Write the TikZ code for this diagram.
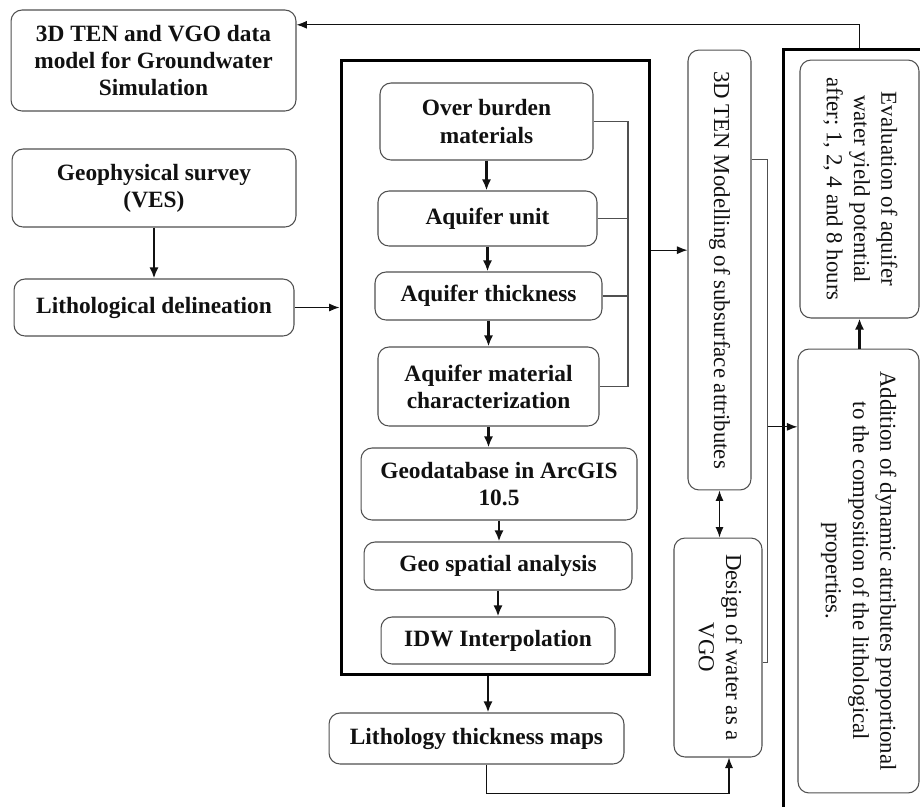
\documentclass[tikz,border=0pt]{standalone}
\usepackage{fontspec}
\setmainfont{Liberation Serif}
\usepackage{tikz}
\usetikzlibrary{arrows.meta, positioning, calc}
\definecolor{Edge}{HTML}{505050}
\definecolor{Ink}{HTML}{111111}
\newcommand{\vtext}[1]{\rotatebox{-90}{\begin{tabular}{@{}c@{}}#1\end{tabular}}}

\begin{document}
\begin{tikzpicture}[
        x=0.02cm,
        y=-0.02cm,
        font=\fontsize{13}{15.5}\selectfont,
        box/.style={draw=Edge, fill=white, rounded corners=2.2mm, line width=0.6pt, align=center, text=Ink, inner sep=2pt},
        boldbox/.style={box, font=\fontsize{13.3}{15.5}\selectfont\bfseries},
        bigframe/.style={draw=black, line width=1.7pt, inner sep=0pt},
        flow/.style={-{Latex[length=2.2mm,width=1.8mm]}, line width=1.2pt, draw=Ink},
        link/.style={-{Latex[length=2.1mm,width=1.6mm]}, line width=0.6pt, draw=Ink},
        duplex/.style={{Latex[length=2.1mm,width=1.6mm]}-{Latex[length=2.1mm,width=1.6mm]}, line width=0.6pt, draw=Ink},
        wire/.style={line width=0.6pt, draw=Edge}
      ]
        \useasboundingbox (0,0) rectangle (920,806);

        \node[boldbox, minimum width=5.70cm, minimum height=2.02cm] (model) at (153.5,60.5) {3D TEN and VGO data\\model for Groundwater\\Simulation};
        \node[boldbox, minimum width=5.68cm, minimum height=1.56cm] (survey) at (154,188) {Geophysical survey\\(VES)};
        \node[boldbox, minimum width=5.60cm, minimum height=1.14cm] (litho) at (154,307.5) {Lithological delineation};

        \node[bigframe, minimum width=6.18cm, minimum height=12.3cm] (frame) at (495.5,367.5) {};
        \node[boldbox, minimum width=4.26cm, minimum height=1.54cm] (over) at (486.5,121.5) {Over burden\\materials};
        \node[boldbox, minimum width=4.38cm, minimum height=1.10cm] (unit) at (487.5,218.5) {Aquifer unit};
        \node[boldbox, minimum width=4.54cm, minimum height=0.96cm] (thick) at (488.5,296) {Aquifer thickness};
        \node[boldbox, minimum width=4.42cm, minimum height=1.58cm] (matl) at (488.5,386.5) {Aquifer material\\characterization};
        \node[boldbox, minimum width=5.52cm, minimum height=1.44cm] (gdb) at (499,484) {Geodatabase in ArcGIS\\10.5};
        \node[boldbox, minimum width=5.36cm, minimum height=0.96cm] (gsa) at (498,566) {Geo spatial analysis};
        \node[boldbox, minimum width=4.68cm, minimum height=0.94cm] (idw) at (498,640.5) {IDW Interpolation};
        \node[boldbox, minimum width=5.90cm, minimum height=1.02cm] (maps) at (476.5,738.5) {Lithology thickness maps};

        \node[box, minimum width=1.26cm, minimum height=8.80cm] (ten) at (719.5,270) {\vtext{3D TEN Modelling of subsurface attributes}};
        \node[box, minimum width=1.76cm, minimum height=4.38cm] (vgo) at (718,647.5) {\vtext{Design of water as a\\VGO}};

        \node[bigframe, anchor=north west, minimum width=3.2cm, minimum height=15.6cm] (rframe) at (782,48) {};
        \node[box, minimum width=2.38cm, minimum height=5.16cm] (eval) at (859.5,189) {\vtext{Evaluation of aquifer\\water yield potential\\after; 1, 2, 4 and 8 hours}};
        \node[box, minimum width=2.42cm, minimum height=8.88cm] (addn) at (858.5,571) {\vtext{Addition of dynamic attributes proportional\\to the composition of the lithological\\properties.}};

        \coordinate (brk) at (628,0);
        \coordinate (tenin) at ($(ten.north west)!0.455!(ten.south west)$);
        \coordinate (tenout) at ($(ten.north east)!0.25!(ten.south east)$);
        \coordinate (vgoout) at ($(vgo.north east)!0.57!(vgo.south east)$);
        \coordinate (addin) at ($(addn.north west)!0.176!(addn.south west)$);
        \coordinate (modelin) at ($(model.north east)!0.15!(model.south east)$);

        \draw[flow] (survey) -- (litho);
        \draw[link] (litho.east) -- (litho.east -| frame.west);

        \foreach \a/\b in {over/unit, unit/thick, thick/matl, matl/gdb, gdb/gsa, gsa/idw}
          \draw[flow] (\a.south) -- (\a.south |- \b.north);

        \draw[wire] (over.east) -- (over.east -| brk) -- (matl.east -| brk) -- (matl.east);
        \draw[wire] (unit.east) -- (unit.east -| brk);
        \draw[wire] (thick.east) -- (thick.east -| brk);

        \draw[link] (frame.east |- tenin) -- (tenin);
        \draw[flow] ([xshift=-0.15cm]frame.south) -- ([xshift=-0.15cm]frame.south |- maps.north);
        \draw[duplex] (ten.south) -- (ten.south |- vgo.north);
        \draw[link] ([xshift=0.2cm]maps.south) -- ++(0,29) -| ([xshift=0.22cm]vgo.south);

        \draw[wire] (tenout) -- ++(16,0) coordinate (bus) |- (vgoout);
        \draw[link] (bus |- addin) -- (addin);

        \draw[flow] (addn.north -| eval) -- (eval.south);
        \draw[link] (rframe.north -| eval) |- (modelin);
      \end{tikzpicture}
\end{document}
